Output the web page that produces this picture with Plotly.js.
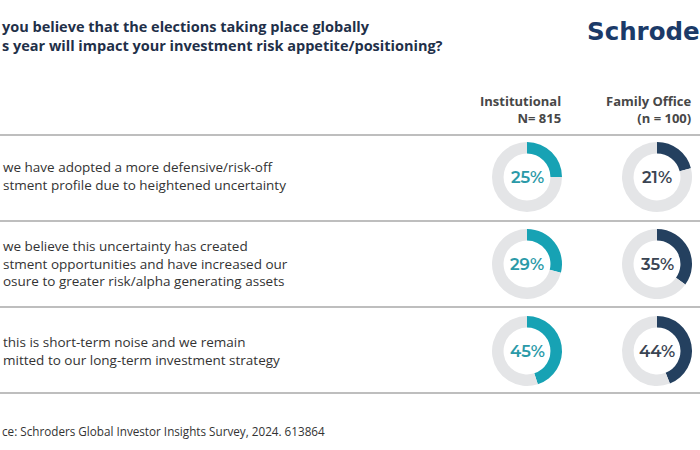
<!DOCTYPE html>
<html>
<head>
<meta charset="utf-8">
<script src="https://cdn.plot.ly/plotly-3.0.1.min.js"></script>
<style>html,body{margin:0;padding:0;background:#fff;}#chart{width:700px;height:450px;}</style>
</head>
<body>
<div id="chart"></div>
<script>
// ---- data (as visible in the cropped reference) ----
const titleText = "you believe that the elections taking place globally<br>s year will impact your investment risk appetite/positioning?";
const categories = [
  "we have adopted a more defensive/risk-off<br>stment profile due to heightened uncertainty",
  "we believe this uncertainty has created<br>stment opportunities and have increased our<br>osure to greater risk/alpha generating assets",
  "this is short-term noise and we remain<br>mitted to our long-term investment strategy"
];
const groupNames = ["Institutional", "Family Office"];
const groupSizes = ["N= 815", "(n = 100)"];
const institutional = [25, 29, 45];
const familyOffice = [21, 35, 44];
const sourceText = "ce: Schroders Global Investor Insights Survey, 2024. 613864";
const logoText = "Schrode";

// ---- layout helpers (pixel -> paper) ----
const W = 700, H = 450;
const px = x => x / W;
const py = y => 1 - y / H;

const rowCenters = [177, 264, 351];
const colCenters = [527, 657];
const R = 35;
const colors = ["#17a2b4", "#24405f"];
const pctColors = ["#2b9aa8", "#3a4452"];
const ringGray = "#e4e5e7";
const seriesList = [institutional, familyOffice];
const textFont = "'Open Sans', 'Noto Sans', sans-serif";

const traces = [];
const annotations = [];

seriesList.forEach((series, c) => {
  series.forEach((v, r) => {
    const cx = colCenters[c], cy = rowCenters[r];
    traces.push({
      type: "pie",
      values: [v, 100 - v],
      labels: ["yes", "rest"],
      sort: false,
      direction: "clockwise",
      rotation: 0,
      hole: 0.67,
      textinfo: "none",
      hoverinfo: "skip",
      showlegend: false,
      marker: {colors: [colors[c], ringGray], line: {width: 0}},
      domain: {x: [px(cx - R), px(cx + R)], y: [py(cy + R), py(cy - R)]}
    });
    annotations.push({
      xref: "paper", yref: "paper", x: px(cx), y: py(cy),
      xanchor: "center", yanchor: "middle", showarrow: false,
      text: v + "%",
      font: {family: "Montserrat, Lato, 'Open Sans', sans-serif", size: 16.5, color: pctColors[c], weight: 600}
    });
  });
});

// title (two lines in one text block)
annotations.push({
  xref: "paper", yref: "paper", x: px(0), y: py(36),
  xanchor: "left", yanchor: "middle", align: "left", showarrow: false,
  text: "<b>" + titleText + "</b>",
  font: {family: textFont, size: 14.5, color: "#1f3049"}
});

// logo
annotations.push({
  xref: "paper", yref: "paper", x: px(585), y: py(31),
  xanchor: "left", yanchor: "middle", showarrow: false,
  text: "<b>" + logoText + "</b>",
  font: {family: "'DejaVu Sans', sans-serif", size: 24.5, color: "#1b3a68"}
});

// column headers
const headerRight = [563, 694];
groupNames.forEach((g, i) => {
  annotations.push({
    xref: "paper", yref: "paper", x: px(headerRight[i]), y: py(109.5),
    xanchor: "right", yanchor: "middle", align: "right", showarrow: false,
    text: "<b>" + g + "<br>" + groupSizes[i] + "</b>",
    font: {family: textFont, size: 13, color: "#474747"}
  });
});

// row labels
const labelCenters = [176, 263, 351];
categories.forEach((t, i) => {
  annotations.push({
    xref: "paper", yref: "paper", x: px(1), y: py(labelCenters[i]),
    xanchor: "left", yanchor: "middle", align: "left", showarrow: false,
    text: t,
    font: {family: textFont, size: 13.5, color: "#333"}
  });
});

// source
annotations.push({
  xref: "paper", yref: "paper", x: px(0), y: py(431),
  xanchor: "left", yanchor: "middle", showarrow: false,
  text: sourceText,
  font: {family: textFont, size: 11.7, color: "#333"}
});

// separator lines
const lineYs = [135, 221, 307, 393];
const shapes = lineYs.map(y => ({
  type: "line", xref: "paper", yref: "paper",
  x0: 0, x1: 1, y0: py(y), y1: py(y),
  line: {color: "#a8a8a8", width: 1.5}
}));

Plotly.newPlot("chart", traces, {
  width: W, height: H,
  margin: {l: 0, r: 0, t: 0, b: 0},
  paper_bgcolor: "#ffffff",
  plot_bgcolor: "#ffffff",
  showlegend: false,
  annotations: annotations,
  shapes: shapes
}, {displayModeBar: false, staticPlot: true});
</script>
</body>
</html>
